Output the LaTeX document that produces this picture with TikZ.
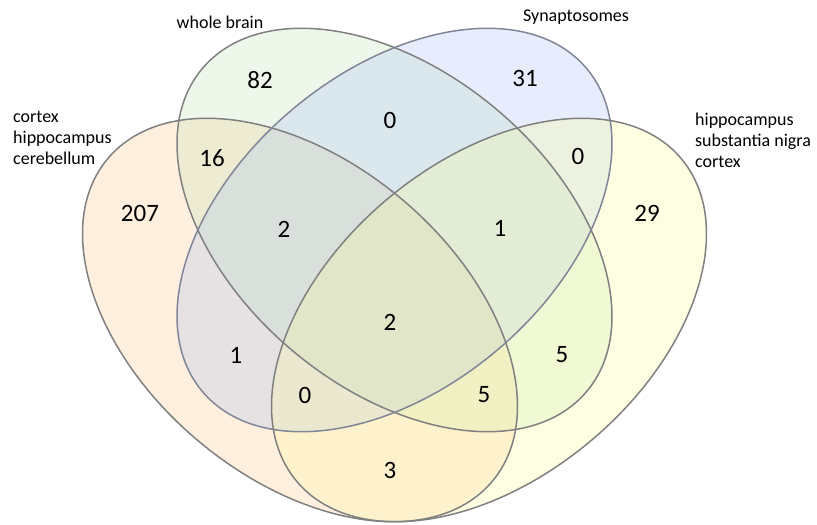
\documentclass[tikz,border=0pt]{standalone}
\usepackage{fontspec}
\setmainfont{Carlito}
\definecolor{cA}{RGB}{251,195,131}
\definecolor{cB}{RGB}{187,227,179}
\definecolor{cC}{RGB}{163,187,243}
\definecolor{cD}{RGB}{251,251,147}
\definecolor{edge}{RGB}{128,128,128}
\definecolor{edgeC}{RGB}{128,134,152}
\tikzset{
  setfill/.style={fill opacity=0.26},
  setline/.style={draw=edge, line width=1.5pt},
  num/.style={font=\fontsize{25}{30}\selectfont, inner sep=0pt},
  lab/.style={font=\fontsize{18}{21}\selectfont, inner sep=0pt, align=left},
}
\begin{document}
\begin{tikzpicture}[x=1pt,y=1pt]
\useasboundingbox (0,0) rectangle (817,-525);
% fills
\fill[cA, setfill, rotate around={-40:(300,-320)}] (300,-320) ellipse [x radius=251, y radius=158];
\fill[cB, setfill, rotate around={-40:(394.5,-230)}] (394.5,-230) ellipse [x radius=251, y radius=158];
\fill[cC, setfill, rotate around={40:(394.5,-230)}] (394.5,-230) ellipse [x radius=251, y radius=158];
\fill[cD, setfill, rotate around={40:(489,-320)}] (489,-320) ellipse [x radius=251, y radius=158];
% outlines
\draw[setline, rotate around={-40:(300,-320)}] (300,-320) ellipse [x radius=251, y radius=158];
\draw[setline, rotate around={-40:(394.5,-230)}] (394.5,-230) ellipse [x radius=251, y radius=158];
\draw[setline, draw=edgeC, rotate around={40:(394.5,-230)}] (394.5,-230) ellipse [x radius=251, y radius=158];
\draw[setline, rotate around={40:(489,-320)}] (489,-320) ellipse [x radius=251, y radius=158];
% labels
\node[lab, anchor=base] (lB) at (220,-28) {whole brain};
\node[lab, anchor=base] (lC) at (576,-21) {Synaptosomes};
\node[lab, anchor=base west] (lA) at (13,-164) {cortex\\hippocampus\\cerebellum};
\node[lab, anchor=base west] (lD) at (695,-167) {hippocampus\\substantia nigra\\cortex};
% numbers
\node[num] (n82) at (260,-80) {82};
\node[num] (n31) at (525,-78) {31};
\node[num] (nBC) at (390,-120) {0};
\node[num] (n16) at (212,-158) {16};
\node[num] (nCD) at (578,-156) {0};
\node[num] (n207) at (140,-213) {207};
\node[num] (nABC) at (284,-229) {2};
\node[num] (nBCD) at (500,-228) {1};
\node[num] (n29) at (647,-213) {29};
\node[num] (nABCD) at (390,-322) {2};
\node[num] (nAC) at (236,-355) {1};
\node[num] (nBD) at (562,-355) {5};
\node[num] (nACD) at (305,-395) {0};
\node[num] (nABD) at (484,-395) {5};
\node[num] (nAD) at (390,-470) {3};
\end{tikzpicture}
\end{document}
